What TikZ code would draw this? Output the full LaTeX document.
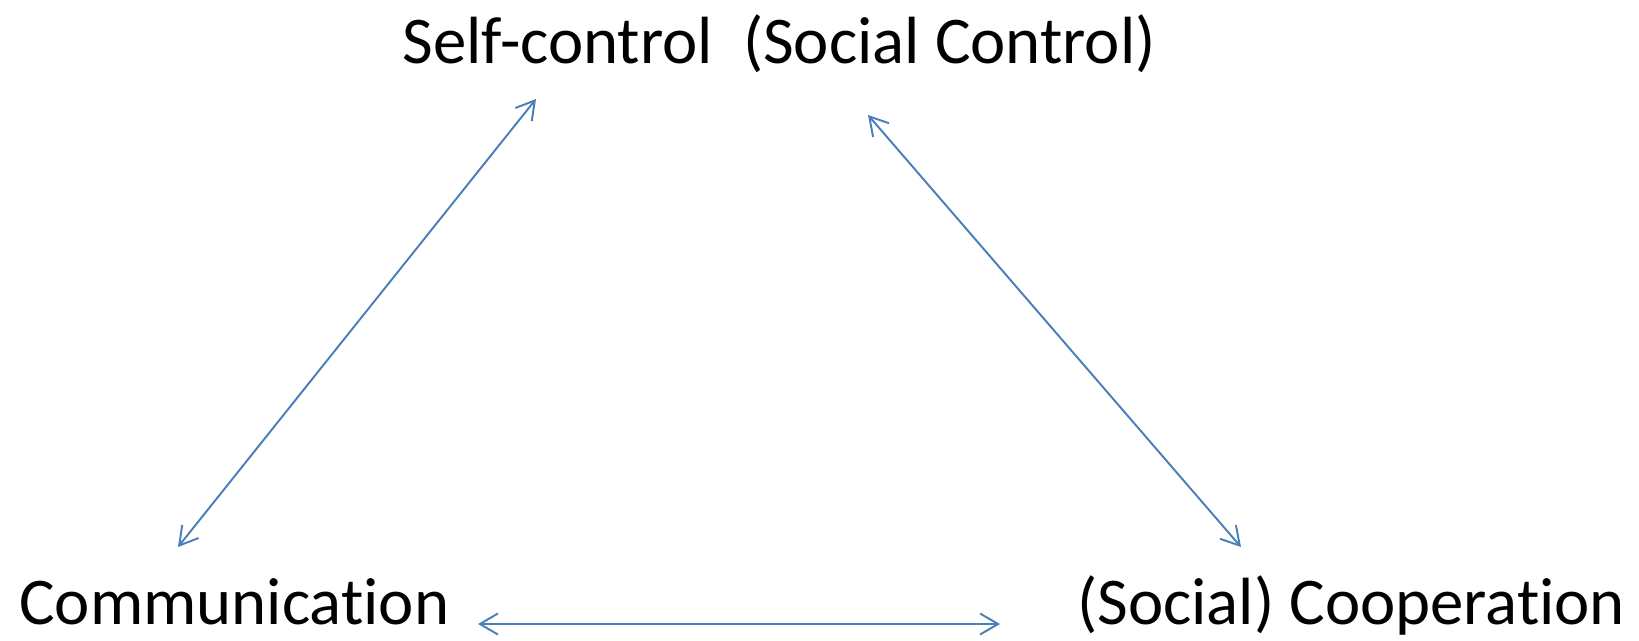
\documentclass[tikz,border=0pt]{standalone}
\usepackage{fontspec}
\setmainfont{Carlito}[Ligatures=NoCommon]
\usetikzlibrary{positioning,arrows.meta}
\definecolor{linkblue}{RGB}{74,126,187}
\tikzset{
  label/.style={anchor=base west, inner sep=0pt, font=\fontsize{38}{46}\selectfont},
  link/.style={draw=linkblue, line width=1.1pt, {Straight Barb[length=0.36cm,width=0.42cm]}-{Straight Barb[length=0.36cm,width=0.42cm]}}
}
\begin{document}
\begin{tikzpicture}[x=0.02cm,y=-0.02cm]
   \useasboundingbox (0,0) rectangle (1639,640);
   \node[label] (self) at (402,63) {Self-control\ \ (Social Control)};
   \node[label] (comm) at (19,624) {Communication};
   \node[label] (coop) at (1077,624) {(Social) Cooperation};
   % arrow ends
   \coordinate (selfL) at (536,99);
   \coordinate (selfR) at (868,115);
   \coordinate (commT) at (178,547);
   \coordinate (commR) at (478,624);
   \coordinate (coopT) at (1241,547);
   \coordinate (coopL) at (1000,624);
   \draw[link] (commT) -- (selfL);
   \draw[link] (selfR) -- (coopT);
   \draw[link] (commR) -- (coopL);
\end{tikzpicture}
\end{document}
